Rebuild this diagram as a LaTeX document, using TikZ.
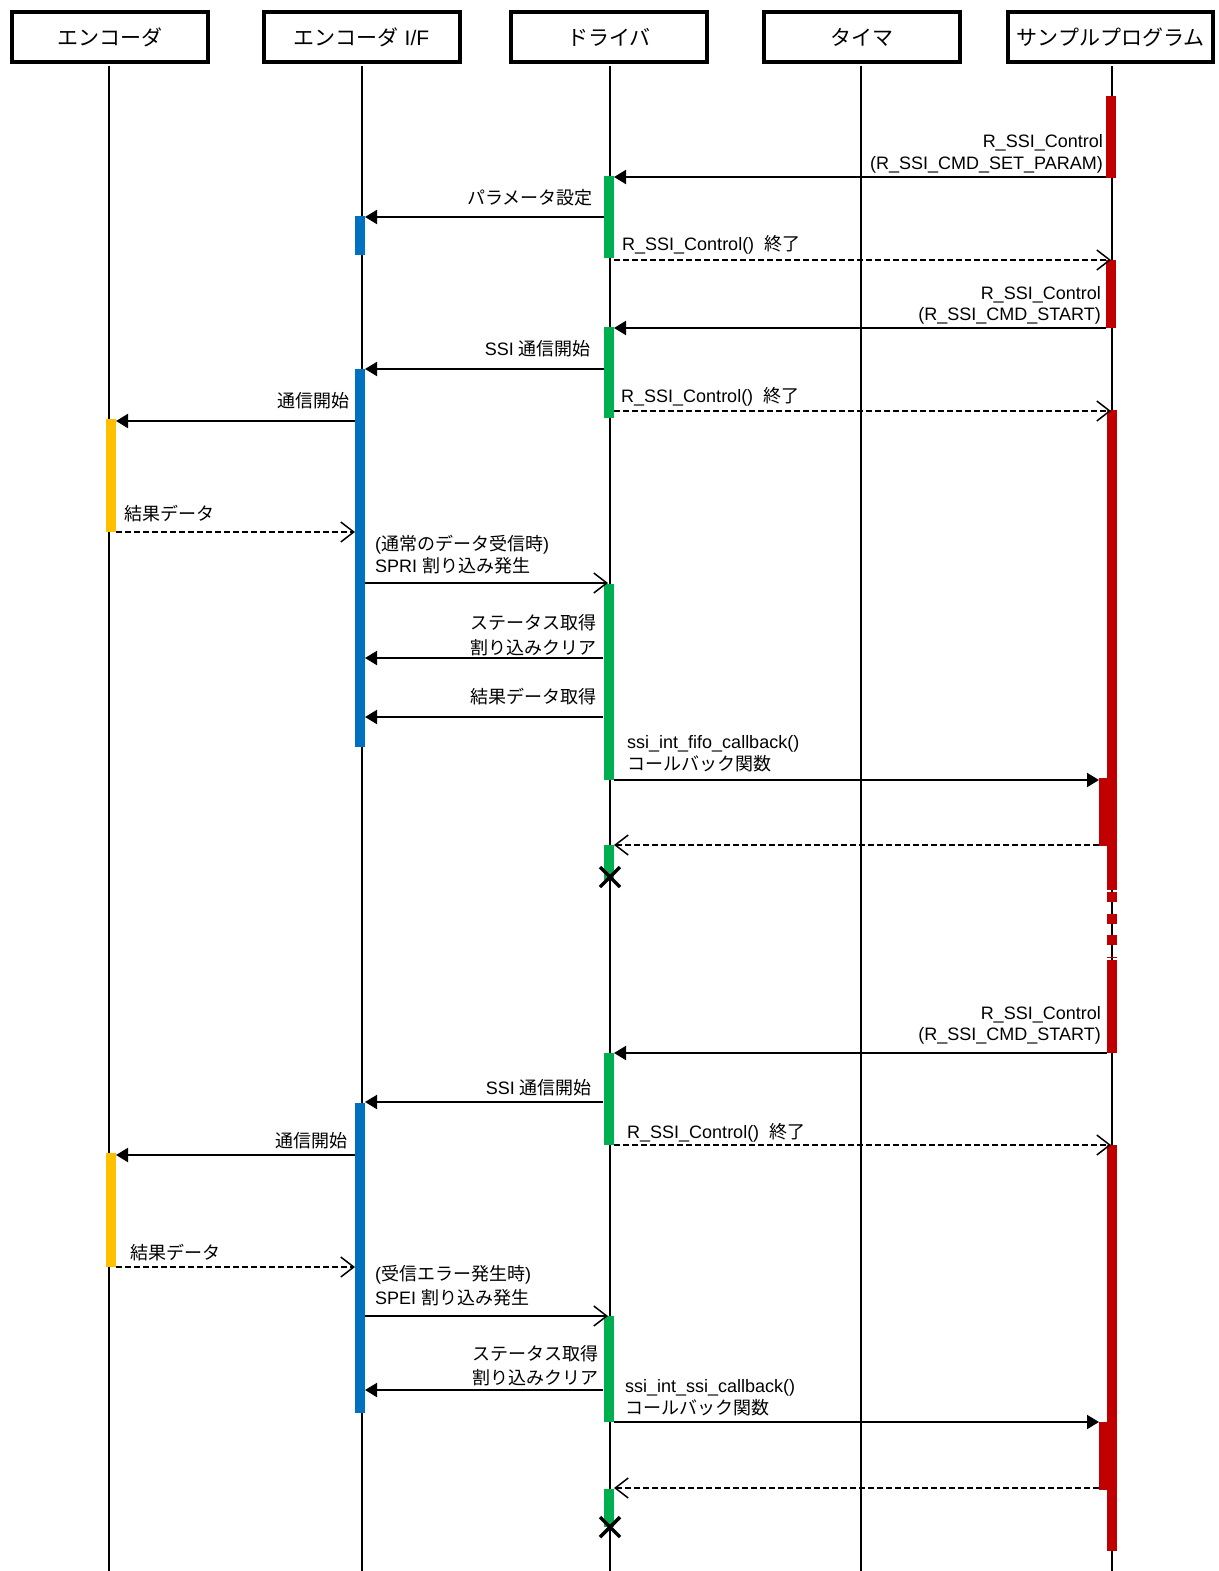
\documentclass[tikz,border=0pt]{standalone}
\usepackage{fontspec}
\setmainfont{Liberation Sans}
\newfontfamily\jp{Noto Sans CJK JP}
\usetikzlibrary{arrows.meta}
\newcommand\jt[1]{{\jp #1}}
\definecolor{spred}{HTML}{C00000}
\definecolor{drgreen}{HTML}{00B050}
\definecolor{ifblue}{HTML}{0070C0}
\definecolor{encyel}{HTML}{FFC000}
\tikzset{
  hdr/.style={draw, line width=4pt, minimum width=196pt, minimum height=50pt, inner sep=0pt, fill=white,
    font=\fontsize{21}{25}\selectfont},
  life/.style={line width=1.5pt},
  bar/.style={fill=#1, draw=none, minimum width=10pt, inner sep=0pt, outer sep=0pt, anchor=north},
  call/.style={line width=2pt, -{Triangle[length=12pt,width=14pt]}},
  async/.style={line width=2pt, -{Straight Barb[length=13pt,width=20pt,line width=1.5pt]}},
  ret/.style={line width=1.6pt, dash pattern=on 6pt off 3pt, -{Straight Barb[length=13pt,width=20pt,line width=1.5pt,sep=0pt]}},
  lblr/.style={inner sep=0pt, anchor=base east, align=right, font=\fontsize{18}{22}\selectfont},
  lbll/.style={inner sep=0pt, anchor=base west, align=left, font=\fontsize{18}{22}\selectfont},
  xmark/.style={line width=3.5pt},
}
\begin{document}
\begin{tikzpicture}[x=1pt,y=-1pt]
\useasboundingbox (0,0) rectangle (1218,1571);
\coordinate (bot) at (0,1571);
% headers
\node[hdr] (h1) at (110,37) {\jt{エンコーダ}};
\node[hdr] (h2) at (361.5,37) {\jt{エンコーダ} I/F};
\node[hdr] (h3) at (609,37) {\jt{ドライバ}};
\node[hdr] (h4) at (861.5,37) {\jt{タイマ}};
\node[hdr, minimum width=205pt] (h5) at (1110.5,37) {\jt{サンプルプログラム}};
% lifelines
\coordinate (ll1) at (109,66); \coordinate (ll2) at (362,66); \coordinate (ll3) at (610,66);
\coordinate (ll4) at (861,66); \coordinate (ll5) at (1112,66);
\foreach \l in {ll1,ll2,ll3,ll4,ll5} \draw[life] (\l) -- (\l |- bot);
% sample program bars
\node[bar=spred, minimum height=82pt] (s1) at (1111,96) {};
\node[bar=spred, minimum height=68pt] (s2) at (1111,260) {};
\node[bar=spred, minimum height=480pt] (s3) at (1112,410) {};
\node[bar=spred, minimum height=68pt] (s3n) at (1104,778) {};
\coordinate (sdA) at (1112,892); \coordinate (sdB) at (1112,957);
\draw[spred, line width=10pt, dash pattern=on 10pt off 11.5pt] (sdA) -- (sdB);
\node[bar=spred, minimum height=93pt] (s4) at (1112,960) {};
\node[bar=spred, minimum height=406pt] (s5) at (1112,1145) {};
\node[bar=spred, minimum height=68pt] (s5n) at (1104,1422) {};
% driver bars
\node[bar=drgreen, minimum height=82pt] (d1) at (608.5,176) {};
\node[bar=drgreen, minimum height=91pt] (d2) at (608.5,327) {};
\node[bar=drgreen, minimum height=196pt] (d3) at (608.5,584) {};
\node[bar=drgreen, minimum height=35pt] (d4) at (608.5,845) {};
\node[bar=drgreen, minimum height=92pt] (d5) at (608.5,1053) {};
\node[bar=drgreen, minimum height=106pt] (d6) at (608.5,1316) {};
\node[bar=drgreen, minimum height=38pt] (d7) at (608.5,1489) {};
% I/F bars
\node[bar=ifblue, minimum height=39pt] (b1) at (360,216) {};
\node[bar=ifblue, minimum height=378pt] (b2) at (360,369) {};
\node[bar=ifblue, minimum height=310pt] (b3) at (360,1103) {};
% encoder bars
\node[bar=encyel, minimum height=113pt] (y1) at (110.5,419) {};
\node[bar=encyel, minimum height=114pt] (y2) at (110.5,1153) {};
% message endpoints
\coordinate (m1a) at (1106,177);  \coordinate (m1b) at (614,177);
\coordinate (m2a) at (604,217);   \coordinate (m2b) at (365,217);
\coordinate (m3a) at (614,260);   \coordinate (m3b) at (1111,260);
\coordinate (m4a) at (1106,328);  \coordinate (m4b) at (614,328);
\coordinate (m5a) at (604,369);   \coordinate (m5b) at (365,369);
\coordinate (m6a) at (614,411);   \coordinate (m6b) at (1111,411);
\coordinate (m7a) at (355,421);   \coordinate (m7b) at (116,421);
\coordinate (m8a) at (116,532);   \coordinate (m8b) at (355,532);
\coordinate (m9a) at (365,583);   \coordinate (m9b) at (608,583);
\coordinate (m10a) at (603,658);  \coordinate (m10b) at (365,658);
\coordinate (m11a) at (603,717);  \coordinate (m11b) at (365,717);
\coordinate (m12a) at (614,780);  \coordinate (m12b) at (1099,780);
\coordinate (m13a) at (1099,845); \coordinate (m13b) at (614,845);
\coordinate (m15a) at (1107,1053); \coordinate (m15b) at (614,1053);
\coordinate (m16a) at (603,1102); \coordinate (m16b) at (365,1102);
\coordinate (m17a) at (614,1145); \coordinate (m17b) at (1111,1145);
\coordinate (m18a) at (355,1155); \coordinate (m18b) at (116,1155);
\coordinate (m19a) at (116,1267); \coordinate (m19b) at (355,1267);
\coordinate (m20a) at (365,1316); \coordinate (m20b) at (608,1316);
\coordinate (m21a) at (603,1390); \coordinate (m21b) at (365,1390);
\coordinate (m22a) at (614,1422); \coordinate (m22b) at (1099,1422);
\coordinate (m23a) at (1099,1488); \coordinate (m23b) at (614,1488);
% messages
\draw[call] (m1a) -- (m1b);
\draw[call] (m2a) -- (m2b);
\draw[ret] (m3a) -- (m3b);
\draw[call] (m4a) -- (m4b);
\draw[call] (m5a) -- (m5b);
\draw[ret] (m6a) -- (m6b);
\draw[call] (m7a) -- (m7b);
\draw[ret] (m8a) -- (m8b);
\draw[async] (m9a) -- (m9b);
\draw[call] (m10a) -- (m10b);
\draw[call] (m11a) -- (m11b);
\draw[call] (m12a) -- (m12b);
\draw[ret] (m13a) -- (m13b);
\draw[call] (m15a) -- (m15b);
\draw[call] (m16a) -- (m16b);
\draw[ret] (m17a) -- (m17b);
\draw[call] (m18a) -- (m18b);
\draw[ret] (m19a) -- (m19b);
\draw[async] (m20a) -- (m20b);
\draw[call] (m21a) -- (m21b);
\draw[call] (m22a) -- (m22b);
\draw[ret] (m23a) -- (m23b);
% destruction marks
\coordinate (x1) at (610,877); \coordinate (x2) at (610,1527);
\draw[xmark] ([shift={(-10,-10)}]x1) -- ([shift={(10,10)}]x1);
\draw[xmark] ([shift={(-10,10)}]x1) -- ([shift={(10,-10)}]x1);
\draw[xmark] ([shift={(-10,-10)}]x2) -- ([shift={(10,10)}]x2);
\draw[xmark] ([shift={(-10,10)}]x2) -- ([shift={(10,-10)}]x2);
% labels (multi-line: base = last line)
\node[lblr] (l1) at (1103,169) {R\_SSI\_Control\\(R\_SSI\_CMD\_SET\_PARAM)};
\node[lblr] (l2) at (593,204) {\jt{パラメータ設定}};
\node[lbll] (l3) at (622,250) {R\_SSI\_Control()\hspace{10pt}\jt{終了}};
\node[lblr] (l4) at (1101,320) {R\_SSI\_Control\\[-1pt](R\_SSI\_CMD\_START)};
\node[lblr] (l5) at (591,355) {SSI \jt{通信開始}};
\node[lbll] (l6) at (621,402) {R\_SSI\_Control()\hspace{10pt}\jt{終了}};
\node[lblr] (l7) at (350,407) {\jt{通信開始}};
\node[lbll] (l8) at (124,520) {\jt{結果データ}};
\node[lbll] (l9) at (375,572) {(\jt{通常のデータ受信時})\\SPRI \jt{割り込み発生}};
\node[lblr] (l10) at (597,654) {\jt{ステータス取得}\\[3pt]\jt{割り込みクリア}};
\node[lblr] (l11) at (597,703) {\jt{結果データ取得}};
\node[lbll] (l12) at (627,770) {ssi\_int\_fifo\_callback()\\\jt{コールバック関数}};
\node[lblr] (l15) at (1101,1040) {R\_SSI\_Control\\[-1pt](R\_SSI\_CMD\_START)};
\node[lblr] (l16) at (592,1094) {SSI \jt{通信開始}};
\node[lbll] (l17) at (627,1138) {R\_SSI\_Control()\hspace{10pt}\jt{終了}};
\node[lblr] (l18) at (348,1147) {\jt{通信開始}};
\node[lbll] (l19) at (130,1259) {\jt{結果データ}};
\node[lbll] (l20) at (375,1304) {(\jt{受信エラー発生時})\\[2pt]SPEI \jt{割り込み発生}};
\node[lblr] (l21) at (599,1384) {\jt{ステータス取得}\\[2pt]\jt{割り込みクリア}};
\node[lbll] (l22) at (625,1414) {ssi\_int\_ssi\_callback()\\\jt{コールバック関数}};
\end{tikzpicture}
\end{document}
